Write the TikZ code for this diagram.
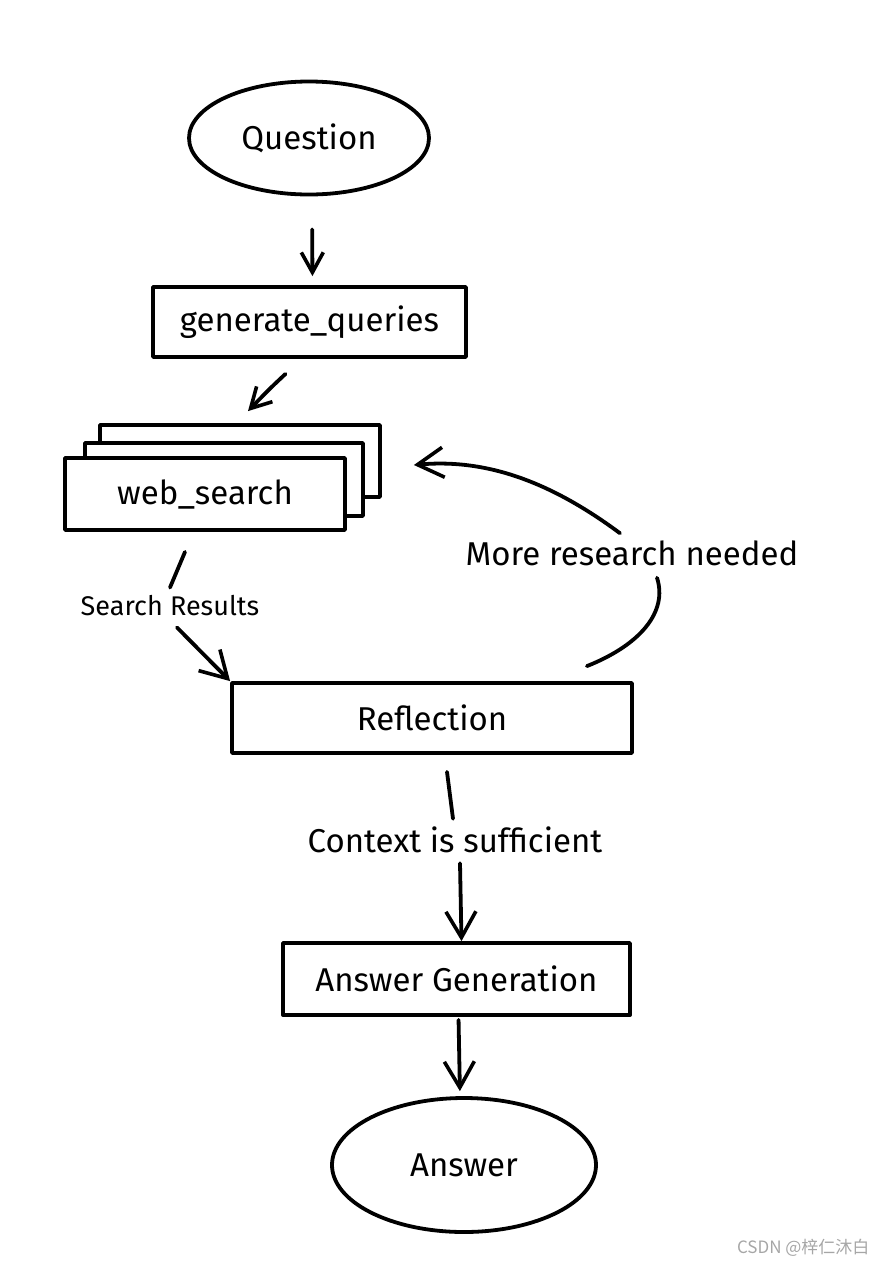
\documentclass[tikz,border=0pt]{standalone}
\usepackage{fontspec}
\setmainfont{Fira Sans}
\newfontfamily\cjk{Noto Sans CJK SC}
\usetikzlibrary{shapes.geometric,arrows.meta,calc}
\tikzset{
  stroke/.style={line width=3.8pt, line cap=round, line join=round},
  mainfont/.style={font=\fontsize{33}{38}\selectfont},
  oval/.style={ellipse, draw, stroke, minimum width=240pt, minimum height=113pt, mainfont},
  boxnode/.style={rectangle, draw, stroke, fill=white, mainfont},
  lbl/.style={mainfont, inner sep=2pt},
  smalllbl/.style={font=\fontsize{27}{31}\selectfont, inner sep=2pt},
  arr/.style={stroke, -{Straight Barb[length=26pt,width=30pt,line width=3.6pt]}},
  arrsmall/.style={stroke, -{Straight Barb[length=20pt,width=22pt,line width=3.6pt]}},
  conn/.style={stroke}
}
\begin{document}
\begin{tikzpicture}[x=1pt,y=-1pt]
\useasboundingbox (0,0) rectangle (876,1262);
% nodes
\node[oval] (q) at (309,138) {Question};
\node[boxnode, minimum width=313pt, minimum height=70pt] (gq) at (309.5,322) {generate\_queries};
\node[boxnode, minimum width=280pt, minimum height=72pt] (ws3) at (240,461) {};
\node[boxnode, minimum width=278pt, minimum height=73pt] (ws2) at (224,479.5) {};
\node[boxnode, minimum width=280pt, minimum height=72pt] (ws) at (205,494) {web\_search};
\node[smalllbl] (sr) at (170,606) {Search Results};
\node[boxnode, minimum width=400pt, minimum height=70pt] (refl) at (432,718) {Reflection};
\node[lbl] (mr) at (632,553) {More research needed};
\node[lbl] (cs) at (455,840) {Context is sufficient};
\node[boxnode, minimum width=347pt, minimum height=72pt] (ag) at (456.5,979) {Answer Generation};
\node[oval, minimum width=264pt, minimum height=134pt] (ans) at (464,1165) {Answer};
\node[font=\cjk\fontsize{17}{19}\selectfont, text=black!35, anchor=east] (wm) at (873,1248) {CSDN @梓仁沐白};
% connectors
\draw[arrsmall, shorten <=33pt, shorten >=9pt] ($(q.south)+(3,0)$) -- ($(gq.north)+(3,0)$);
\draw[arrsmall] ($(gq.south)+(-24,15)$) .. controls ($(gq.south)+(-40,30)$) .. ($(ws3.north)+(8,-12)$);
\draw[conn] ($(ws.south)+(-20,20)$) -- ($(sr.north)+(0,-6)$);
\draw[arr] ($(sr.south)+(7,9)$) -- (refl.north west);
\draw[conn] ($(refl.north east)+(-47,-15)$) .. controls (640,645) and (668,612) .. ($(mr.south)+(25,10)$);
\draw[arr] ($(mr.north)+(-12,-5)$) .. controls (555,485) and (490,458) .. ($(ws3.east)+(32,4)$);
\draw[conn] ($(refl.south)+(15,17)$) -- ($(cs.north)+(-2,-6)$);
\draw[arr] ($(cs.south)+(5,8)$) -- ($(ag.north)+(5,0)$);
\draw[arr, shorten <=3pt, shorten >=5pt] ($(ag.south)+(2,0)$) -- ($(ans.north)+(-4,0)$);
\end{tikzpicture}
\end{document}
